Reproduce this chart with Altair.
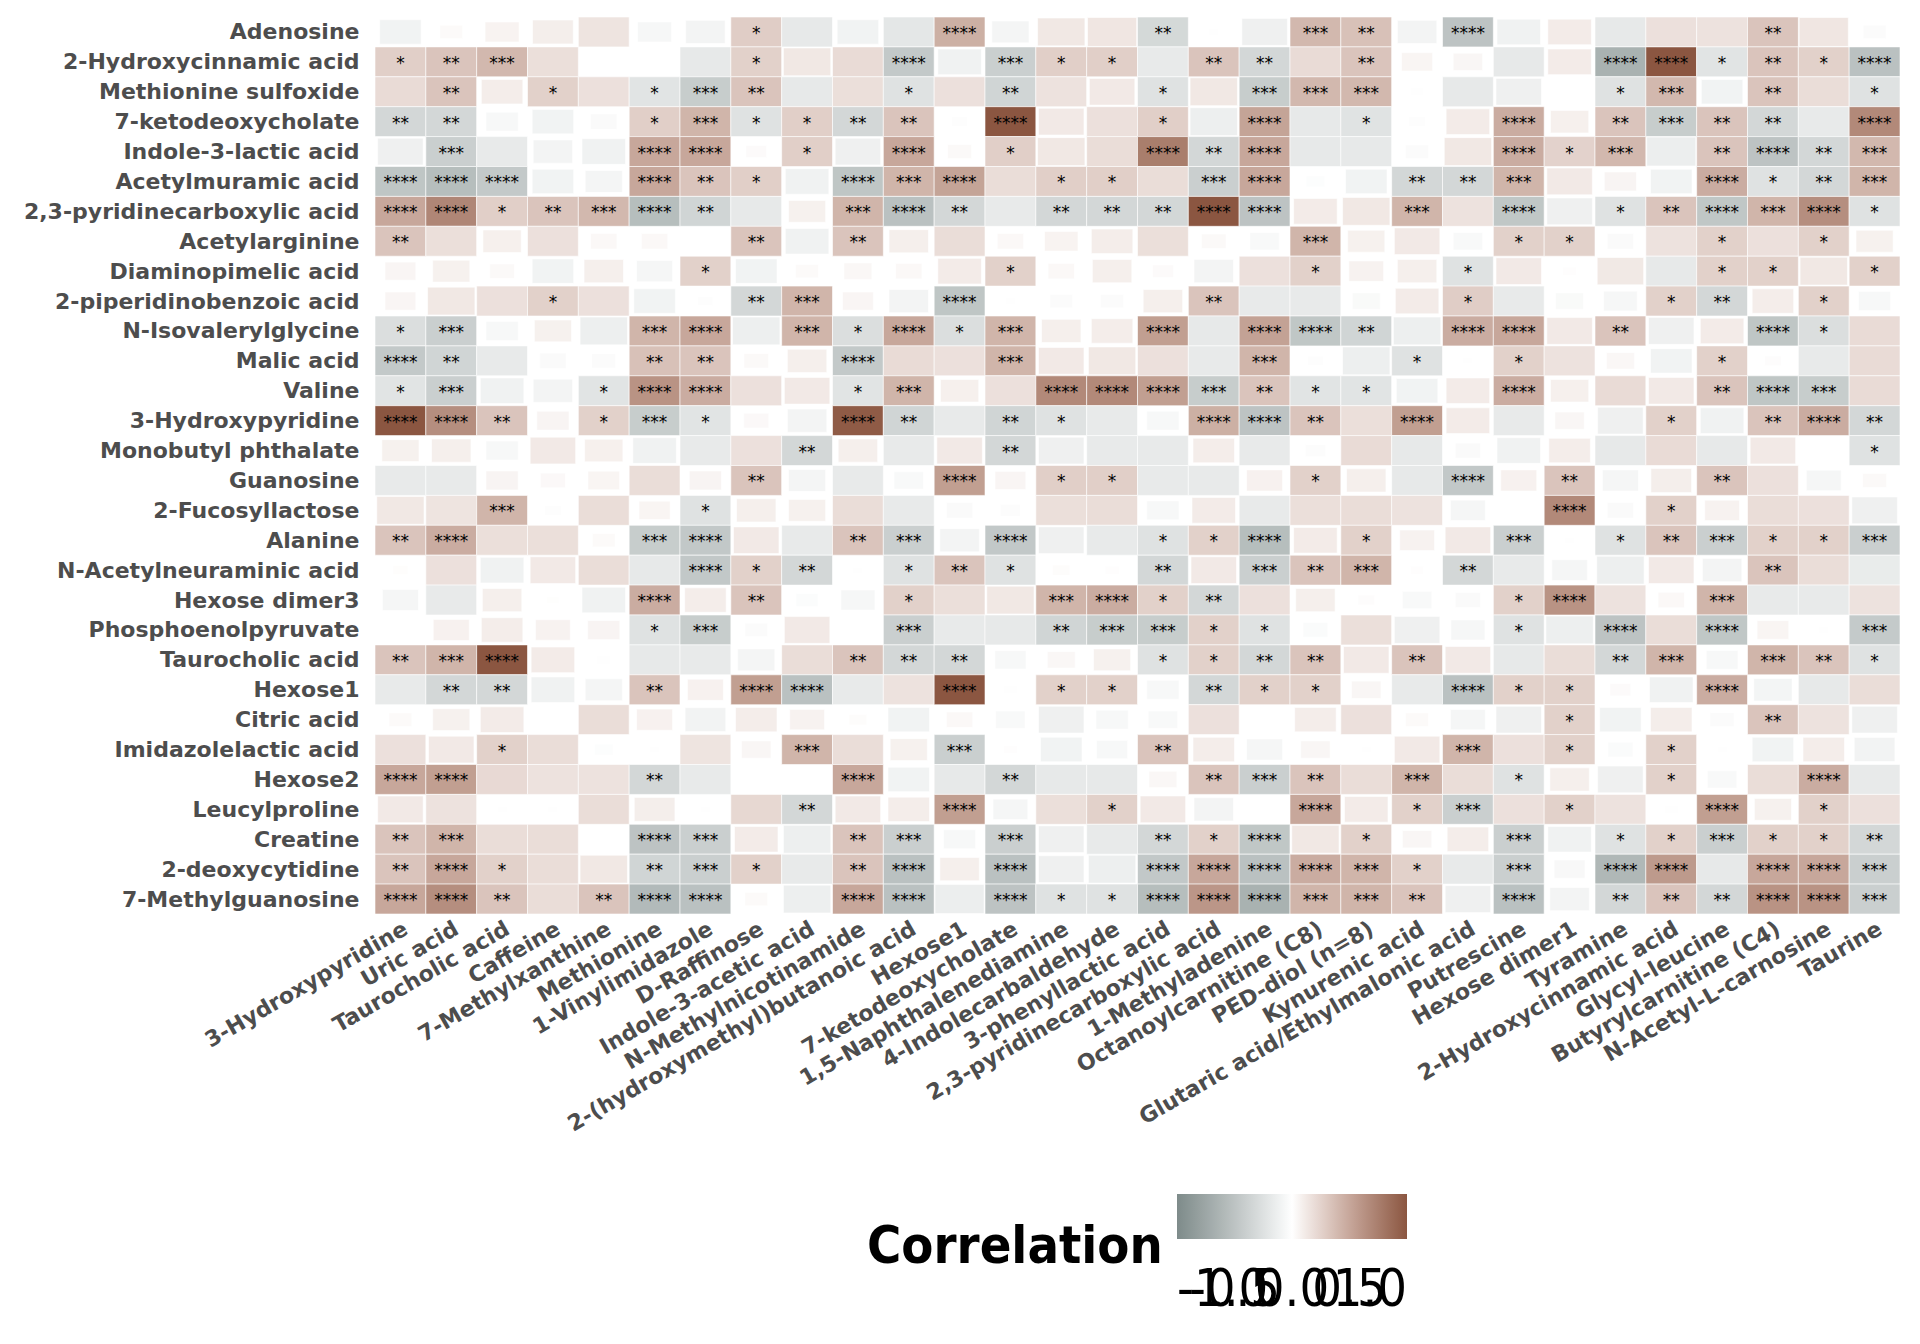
import math
import json
import pandas as pd
import altair as alt

row_names = ["Adenosine", "2-Hydroxycinnamic acid", "Methionine sulfoxide", "7-ketodeoxycholate",
             "Indole-3-lactic acid", "Acetylmuramic acid", "2,3-pyridinecarboxylic acid", "Acetylarginine",
             "Diaminopimelic acid", "2-piperidinobenzoic acid", "N-Isovalerylglycine", "Malic acid", "Valine",
             "3-Hydroxypyridine", "Monobutyl phthalate", "Guanosine", "2-Fucosyllactose", "Alanine",
             "N-Acetylneuraminic acid", "Hexose dimer3", "Phosphoenolpyruvate", "Taurocholic acid", "Hexose1",
             "Citric acid", "Imidazolelactic acid", "Hexose2", "Leucylproline", "Creatine", "2-deoxycytidine",
             "7-Methylguanosine"]

col_names = ["3-Hydroxypyridine", "Uric acid", "Taurocholic acid", "Caffeine", "7-Methylxanthine", "Methionine",
             "1-Vinylimidazole", "D-Raffinose", "Indole-3-acetic acid", "N-Methylnicotinamide",
             "2-(hydroxymethyl)butanoic acid", "Hexose1", "7-ketodeoxycholate", "1,5-Naphthalenediamine",
             "4-Indolecarbaldehyde", "3-phenyllactic acid", "2,3-pyridinecarboxylic acid", "1-Methyladenine",
             "Octanoylcarnitine (C8)", "PED-diol (n=8)", "Kynurenic acid", "Glutaric acid/Ethylmalonic acid",
             "Putrescine", "Hexose dimer1", "Tyramine", "2-Hydroxycinnamic acid", "Glycyl-leucine",
             "Butyrylcarnitine (C4)", "N-Acetyl-L-carnosine", "Taurine"]

corr = [
    [-0.10, 0.03, 0.067, 0.096, 0.15, -0.067, -0.09, 0.28, -0.18, -0.10, -0.20, 0.45, -0.08, 0.13, 0.14, -0.32, 0.005, -0.12, 0.40, 0.35, -0.09, -0.50, -0.11, 0.11, -0.18, 0.17, 0.16, 0.33, 0.14, -0.03],
    [0.27, 0.33, 0.40, 0.18, 0.0, 0.0, -0.18, 0.26, 0.13, 0.20, -0.45, -0.11, -0.40, 0.27, 0.27, -0.17, 0.33, -0.33, 0.20, 0.33, 0.056, 0.05, -0.18, 0.11, -0.65, 1.0, -0.22, 0.33, 0.26, -0.52],
    [0.20, 0.33, 0.10, 0.26, 0.17, -0.22, -0.42, 0.33, -0.18, 0.18, -0.24, 0.17, -0.35, 0.16, 0.12, -0.24, 0.13, -0.42, 0.40, 0.40, -0.01, -0.18, -0.12, 0.0, -0.24, 0.40, -0.10, 0.33, 0.19, -0.24],
    [-0.33, -0.33, -0.06, -0.10, -0.04, 0.27, 0.42, -0.24, 0.27, -0.33, 0.33, -0.015, 1.0, 0.12, 0.17, 0.27, -0.13, 0.52, -0.18, -0.23, -0.016, 0.11, 0.47, 0.085, 0.33, -0.42, 0.33, -0.33, -0.17, 0.68],
    [-0.12, -0.40, -0.17, -0.09, -0.11, 0.50, 0.50, 0.025, 0.27, -0.12, 0.50, 0.033, 0.27, 0.13, 0.19, 0.75, -0.33, 0.50, -0.18, -0.18, -0.03, 0.13, 0.47, 0.25, 0.40, -0.14, 0.33, -0.50, -0.33, 0.40],
    [-0.48, -0.55, -0.45, -0.10, -0.08, 0.50, 0.33, 0.27, -0.11, -0.48, 0.42, 0.52, 0.19, 0.27, 0.27, 0.19, -0.40, 0.50, -0.02, -0.10, -0.33, -0.33, 0.42, 0.12, 0.06, -0.10, 0.47, -0.24, -0.33, 0.42],
    [0.50, 0.70, 0.27, 0.33, 0.40, -0.55, -0.35, -0.18, 0.08, 0.42, -0.52, -0.33, -0.17, -0.33, -0.33, -0.33, 1.0, -0.50, 0.11, 0.13, 0.42, 0.16, -0.47, -0.12, -0.24, 0.33, -0.47, 0.42, 0.65, -0.24],
    [0.33, 0.18, 0.085, 0.17, 0.04, 0.04, 0.0, 0.33, -0.11, 0.33, 0.09, 0.19, 0.04, 0.065, 0.10, 0.18, 0.035, -0.05, 0.42, 0.08, 0.12, -0.05, 0.26, 0.26, -0.04, 0.16, 0.26, 0.17, 0.26, 0.08],
    [0.055, 0.08, 0.035, -0.10, 0.09, -0.075, 0.26, -0.10, 0.03, 0.045, 0.04, 0.11, 0.26, 0.04, 0.09, 0.025, -0.09, 0.17, 0.26, 0.07, 0.09, -0.24, 0.12, 0.01, 0.125, -0.18, 0.26, 0.26, 0.13, 0.26],
    [0.055, 0.13, 0.17, 0.26, 0.17, -0.10, -0.013, -0.33, 0.42, 0.055, -0.09, -0.48, 0.005, -0.03, -0.03, 0.09, 0.33, -0.17, -0.17, -0.045, 0.11, 0.28, -0.17, -0.045, -0.065, 0.26, -0.33, 0.10, 0.26, -0.06],
    [-0.27, -0.40, -0.06, 0.08, -0.13, 0.42, 0.50, -0.13, 0.42, -0.27, 0.50, -0.27, 0.42, 0.09, 0.10, 0.55, -0.18, 0.53, -0.47, -0.35, -0.13, 0.47, 0.50, 0.12, 0.33, -0.12, 0.11, -0.48, -0.27, 0.20],
    [-0.45, -0.35, -0.17, -0.04, -0.033, 0.35, 0.33, 0.035, 0.09, -0.45, 0.20, 0.17, 0.42, 0.12, 0.13, 0.17, -0.17, 0.42, -0.014, -0.13, -0.24, 0.005, 0.26, 0.16, 0.045, -0.10, 0.26, 0.016, -0.17, 0.20],
    [-0.22, -0.40, -0.11, -0.09, -0.22, 0.62, 0.47, 0.17, 0.12, -0.22, 0.42, 0.085, 0.17, 0.68, 0.68, 0.55, -0.42, 0.33, -0.22, -0.22, -0.10, 0.11, 0.47, 0.085, 0.20, 0.12, 0.33, -0.48, -0.42, 0.20],
    [1.0, 0.65, 0.33, 0.06, 0.26, -0.42, -0.22, 0.036, -0.09, 0.97, -0.35, -0.17, -0.35, -0.24, -0.17, -0.06, 0.45, -0.50, 0.33, 0.18, 0.55, 0.11, -0.17, 0.05, -0.12, 0.26, -0.11, 0.33, 0.47, -0.33],
    [0.08, 0.09, -0.06, 0.12, 0.085, -0.11, -0.17, 0.17, -0.33, 0.09, -0.17, 0.12, -0.33, -0.12, -0.17, -0.17, 0.10, -0.17, -0.024, 0.20, -0.18, -0.037, -0.11, 0.10, -0.18, 0.20, -0.18, 0.12, 0.0, -0.24],
    [-0.17, -0.17, 0.06, 0.036, 0.058, 0.19, 0.06, 0.33, -0.08, -0.17, -0.05, 0.55, 0.055, 0.27, 0.27, -0.17, -0.17, 0.075, 0.26, 0.09, -0.18, -0.46, 0.075, 0.33, -0.075, 0.096, 0.33, 0.17, -0.07, 0.033],
    [0.13, 0.15, 0.42, -0.015, 0.19, 0.056, -0.24, 0.09, 0.08, 0.19, -0.17, -0.04, -0.023, 0.18, 0.19, -0.06, 0.11, -0.17, 0.18, 0.19, 0.16, -0.07, 0.0, 0.68, -0.04, 0.26, 0.07, 0.19, 0.17, -0.12],
    [0.33, 0.47, 0.18, 0.18, 0.03, -0.42, -0.46, 0.12, -0.17, 0.33, -0.40, -0.09, -0.46, -0.12, -0.17, -0.24, 0.26, -0.55, 0.11, 0.26, 0.07, 0.12, -0.40, 0.005, -0.24, 0.33, -0.40, 0.26, 0.26, -0.40],
    [0.013, 0.17, -0.11, 0.12, 0.19, -0.18, -0.46, 0.26, -0.33, 0.005, -0.24, 0.33, -0.24, 0.017, 0.011, -0.33, 0.12, -0.40, 0.33, 0.42, 0.01, -0.33, -0.17, -0.073, -0.13, 0.12, -0.09, 0.33, 0.19, -0.16],
    [-0.075, -0.17, 0.09, 0.008, -0.11, 0.47, 0.10, 0.33, -0.028, -0.067, 0.26, 0.18, 0.13, 0.42, 0.47, 0.26, -0.33, 0.17, 0.09, 0.016, -0.05, -0.037, 0.26, 0.62, 0.16, 0.04, 0.42, -0.17, -0.17, 0.16],
    [0.0, 0.075, 0.10, 0.07, 0.06, -0.24, -0.42, -0.03, 0.12, 0.0, -0.40, -0.17, -0.18, -0.35, -0.42, -0.42, 0.26, -0.24, -0.035, 0.18, -0.12, -0.067, -0.24, -0.13, -0.50, 0.19, -0.47, 0.058, -0.005, -0.44],
    [0.33, 0.42, 1.0, 0.11, -0.01, -0.18, -0.17, -0.08, 0.19, 0.33, -0.33, -0.33, -0.056, 0.045, 0.08, -0.24, 0.26, -0.33, 0.33, 0.12, 0.33, 0.12, -0.18, 0.19, -0.33, 0.42, -0.058, 0.42, 0.33, -0.24],
    [-0.17, -0.33, -0.33, -0.11, -0.08, 0.33, 0.075, 0.55, -0.52, -0.17, 0.16, 1.0, -0.01, 0.26, 0.26, -0.06, -0.33, 0.26, 0.26, 0.05, -0.17, -0.52, 0.26, 0.26, 0.025, -0.11, 0.47, -0.085, -0.18, 0.19],
    [0.03, 0.08, 0.11, 0.0, 0.19, 0.075, -0.096, 0.10, 0.07, 0.018, -0.10, 0.04, -0.05, -0.12, -0.06, -0.05, 0.17, 0.0, 0.10, 0.17, 0.03, -0.07, -0.12, 0.26, -0.10, 0.10, -0.033, 0.33, 0.16, -0.12],
    [0.17, 0.12, 0.26, 0.19, -0.02, 0.005, 0.15, 0.05, 0.42, 0.19, 0.08, -0.40, 0.01, -0.10, -0.056, 0.33, 0.10, -0.075, 0.05, 0.005, 0.12, 0.42, 0.17, 0.26, -0.036, 0.26, 0.005, -0.10, 0.10, -0.096],
    [0.50, 0.55, 0.21, 0.16, 0.16, -0.33, -0.17, 0.0, 0.0, 0.50, -0.10, -0.18, -0.33, -0.18, -0.18, 0.045, 0.33, -0.40, 0.33, 0.19, 0.42, 0.19, -0.24, 0.09, -0.12, 0.26, -0.05, 0.19, 0.47, -0.17],
    [0.12, 0.16, 0.005, 0.005, 0.19, 0.096, 0.005, 0.22, -0.33, 0.12, 0.10, 0.55, -0.07, 0.18, 0.26, 0.12, -0.09, 0.0, 0.50, 0.11, 0.26, -0.40, 0.17, 0.26, 0.16, -0.01, 0.55, 0.08, 0.26, 0.17],
    [0.33, 0.42, 0.19, 0.19, 0.0, -0.50, -0.40, 0.11, -0.13, 0.33, -0.40, -0.06, -0.40, -0.12, -0.17, -0.33, 0.26, -0.47, 0.13, 0.26, 0.05, 0.10, -0.40, -0.11, -0.24, 0.26, -0.40, 0.26, 0.26, -0.33],
    [0.33, 0.50, 0.26, 0.19, 0.13, -0.35, -0.40, 0.26, -0.17, 0.33, -0.52, 0.09, -0.52, -0.12, -0.13, -0.46, 0.50, -0.52, 0.47, 0.42, 0.26, -0.17, -0.40, -0.055, -0.60, 0.58, -0.18, 0.50, 0.50, -0.40],
    [0.50, 0.65, 0.33, 0.19, 0.33, -0.58, -0.52, 0.03, -0.13, 0.50, -0.52, -0.14, -0.50, -0.24, -0.24, -0.55, 0.60, -0.65, 0.42, 0.42, 0.33, -0.12, -0.52, -0.09, -0.33, 0.33, -0.33, 0.62, 0.62, -0.40],
]

# number of significance stars per cell
stars = [
    [0,0,0,0,0,0,0,1,0,0, 0,4,0,0,0,2,0,0,3,2, 0,4,0,0,0,0,0,2,0,0],
    [1,2,3,0,0,0,0,1,0,0, 4,0,3,1,1,0,2,2,0,2, 0,0,0,0,4,4,1,2,1,4],
    [0,2,0,1,0,1,3,2,0,0, 1,0,2,0,0,1,0,3,3,3, 0,0,0,0,1,3,0,2,0,1],
    [2,2,0,0,0,1,3,1,1,2, 2,0,4,0,0,1,0,4,0,1, 0,0,4,0,2,3,2,2,0,4],
    [0,3,0,0,0,4,4,0,1,0, 4,0,1,0,0,4,2,4,0,0, 0,0,4,1,3,0,2,4,2,3],
    [4,4,4,0,0,4,2,1,0,4, 3,4,0,1,1,0,3,4,0,0, 2,2,3,0,0,0,4,1,2,3],
    [4,4,1,2,3,4,2,0,0,3, 4,2,0,2,2,2,4,4,0,0, 3,0,4,0,1,2,4,3,4,1],
    [2,0,0,0,0,0,0,2,0,2, 0,0,0,0,0,0,0,0,3,0, 0,0,1,1,0,0,1,0,1,0],
    [0,0,0,0,0,0,1,0,0,0, 0,0,1,0,0,0,0,0,1,0, 0,1,0,0,0,0,1,1,0,1],
    [0,0,0,1,0,0,0,2,3,0, 0,4,0,0,0,0,2,0,0,0, 0,1,0,0,0,1,2,0,1,0],
    [1,3,0,0,0,3,4,0,3,1, 4,1,3,0,0,4,0,4,4,2, 0,4,4,0,2,0,0,4,1,0],
    [4,2,0,0,0,2,2,0,0,4, 0,0,3,0,0,0,0,3,0,0, 1,0,1,0,0,0,1,0,0,0],
    [1,3,0,0,1,4,4,0,0,1, 3,0,0,4,4,4,3,2,1,1, 0,0,4,0,0,0,2,4,3,0],
    [4,4,2,0,1,3,1,0,0,4, 2,0,2,1,0,0,4,4,2,0, 4,0,0,0,0,1,0,2,4,2],
    [0,0,0,0,0,0,0,0,2,0, 0,0,2,0,0,0,0,0,0,0, 0,0,0,0,0,0,0,0,0,1],
    [0,0,0,0,0,0,0,2,0,0, 0,4,0,1,1,0,0,0,1,0, 0,4,0,2,0,0,2,0,0,0],
    [0,0,3,0,0,0,1,0,0,0, 0,0,0,0,0,0,0,0,0,0, 0,0,0,4,0,1,0,0,0,0],
    [2,4,0,0,0,3,4,0,0,2, 3,0,4,0,0,1,1,4,0,1, 0,0,3,0,1,2,3,1,1,3],
    [0,0,0,0,0,0,4,1,2,0, 1,2,1,0,0,2,0,3,2,3, 0,2,0,0,0,0,0,2,0,0],
    [0,0,0,0,0,4,0,2,0,0, 1,0,0,3,4,1,2,0,0,0, 0,0,1,4,0,0,3,0,0,0],
    [0,0,0,0,0,1,3,0,0,0, 3,0,0,2,3,3,1,1,0,0, 0,0,1,0,4,0,4,0,0,3],
    [2,3,4,0,0,0,0,0,0,2, 2,2,0,0,0,1,1,2,2,0, 2,0,0,0,2,3,0,3,2,1],
    [0,2,2,0,0,2,0,4,4,0, 0,4,0,1,1,0,2,1,1,0, 0,4,1,1,0,0,4,0,0,0],
    [0,0,0,0,0,0,0,0,0,0, 0,0,0,0,0,0,0,0,0,0, 0,0,0,1,0,0,0,2,0,0],
    [0,0,1,0,0,0,0,0,3,0, 0,3,0,0,0,2,0,0,0,0, 0,3,0,1,0,1,0,0,0,0],
    [4,4,0,0,0,2,0,0,0,4, 0,0,2,0,0,0,2,3,2,0, 3,0,1,0,0,1,0,0,4,0],
    [0,0,0,0,0,0,0,0,2,0, 0,4,0,0,1,0,0,0,4,0, 1,3,0,1,0,0,4,0,1,0],
    [2,3,0,0,0,4,3,0,0,2, 3,0,3,0,0,2,1,4,0,1, 0,0,3,0,1,1,3,1,1,2],
    [2,4,1,0,0,2,3,1,0,2, 4,0,4,0,0,4,4,4,4,3, 1,0,3,0,4,4,0,4,4,3],
    [4,4,2,0,2,4,4,0,0,4, 4,0,4,1,1,4,4,4,3,3, 2,0,4,0,2,2,2,4,4,3],
]

legend_values = [-1.0, -0.5, 0.0, 0.5, 1.0]

records = []
for ri, rname in enumerate(row_names):
    for ci, cname in enumerate(col_names):
        v = corr[ri][ci]
        s = min(1.0, math.sqrt(abs(v) / 0.15))
        records.append(dict(row=rname, col=cname, r=v,
                            x1=ci + 0.5 - s / 2, x2=ci + 0.5 + s / 2,
                            y1=ri + 0.5 - s / 2, y2=ri + 0.5 + s / 2,
                            xc=ci + 0.5, yc=ri + 0.5,
                            stars="*" * stars[ri][ci]))
df = pd.DataFrame(records)

W, H = 1525, 897
n = len(col_names)

xscale = alt.Scale(domain=[0, n], nice=False, zero=False)
yscale = alt.Scale(domain=[0, len(row_names)], nice=False, zero=False, reverse=True)

axis_font = "DejaVu Sans"
xaxis = alt.Axis(values=[i + 0.5 for i in range(n)],
                 labelExpr=json.dumps(col_names) + "[floor(datum.value)]",
                 labelAngle=330, labelAlign="right", labelBaseline="top",
                 labelFont=axis_font, labelFontWeight="bold", labelFontSize=22,
                 labelColor="#4D4D4D", labelPadding=4, labelOverlap=False,
                 labelFlush=False, labelBound=False, labelLimit=1000,
                 ticks=False, domain=False, grid=False, title=None)
yaxis = alt.Axis(values=[i + 0.5 for i in range(len(row_names))],
                 labelExpr=json.dumps(row_names) + "[floor(datum.value)]",
                 labelFont=axis_font, labelFontWeight="bold", labelFontSize=22,
                 labelColor="#4D4D4D", labelPadding=16, labelOverlap=False,
                 labelFlush=False, labelBound=False, labelLimit=1000,
                 ticks=False, domain=False, grid=False, title=None)

narrow = "Liberation Sans Narrow, Arial Narrow, DejaVu Sans Condensed, sans-serif"

color = alt.Color(
    "r:Q",
    scale=alt.Scale(domain=[-1, 0, 1], range=["#7E8B8A", "#FFFFFF", "#8B5641"], interpolate="lab"),
    legend=alt.Legend(
        title=["", "Correlation"], orient="none", legendX=492, legendY=1177,
        direction="horizontal", gradientLength=230, gradientThickness=45,
        gradientStrokeWidth=0,
        titleOrient="left", titleFont=narrow, titleFontWeight="bold",
        titleFontSize=52, titleLineHeight=61, titleColor="black", titlePadding=14, titleLimit=1000,
        values=legend_values,
        labelExpr="replace(format(datum.value, '.1f'), '\u2212', '-')",
        labelFont=narrow, labelFontSize=52, labelColor="black", labelAlign="center",
        labelOverlap=False, labelOffset=26, labelLimit=1000,
    ),
)

tiles = alt.Chart(df).mark_rect(stroke="white", strokeWidth=0.6).encode(
    x=alt.X("x1:Q", scale=xscale, axis=xaxis),
    x2="x2:Q",
    y=alt.Y("y1:Q", scale=yscale, axis=yaxis),
    y2="y2:Q",
    color=color,
)

text = alt.Chart(df).transform_filter("datum.stars != ''").mark_text(
    font="DejaVu Sans", fontSize=17, color="black", baseline="middle", align="center", dy=2
).encode(
    x=alt.X("xc:Q", scale=xscale, axis=xaxis),
    y=alt.Y("yc:Q", scale=yscale, axis=yaxis),
    text="stars:N",
)

chart = alt.layer(tiles, text).properties(
    width=W, height=H,
    autosize=alt.AutoSizeParams(type="none"),
    padding={"left": 375, "top": 17, "right": 20, "bottom": 430},
    background="white",
).configure_view(strokeWidth=0)

chart.save("out.html", embed_options={"renderer": "svg", "actions": False})
